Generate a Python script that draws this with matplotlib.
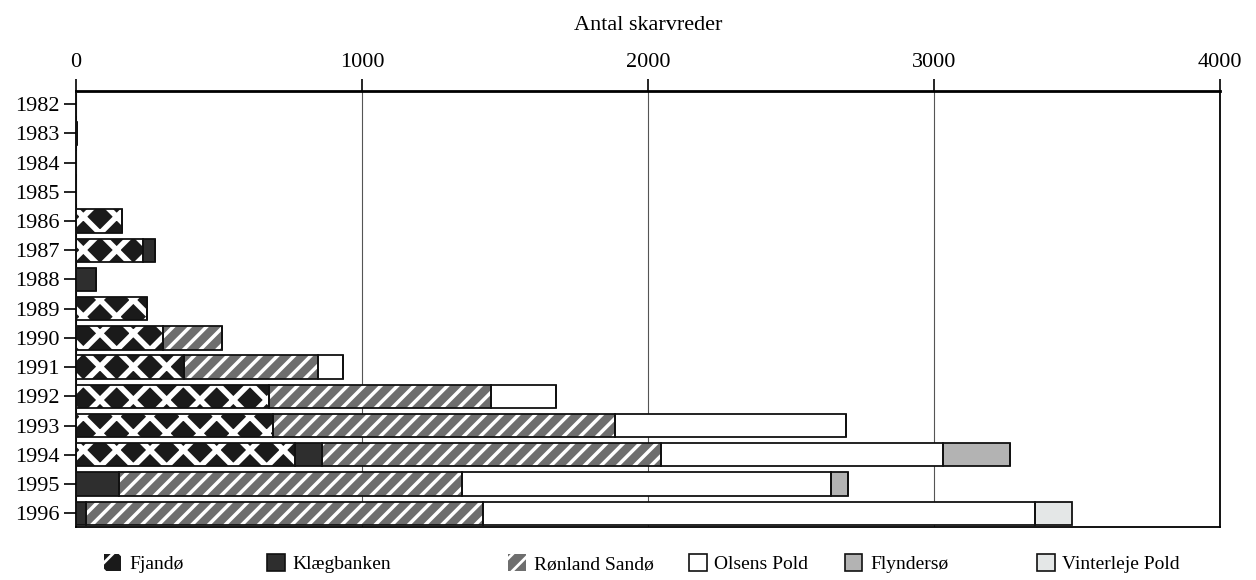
import matplotlib
matplotlib.use("Agg")
import matplotlib.pyplot as plt
import numpy as np
from matplotlib.patches import Patch

plt.rcParams["font.family"] = ["Liberation Serif", "DejaVu Serif"]
plt.rcParams["hatch.linewidth"] = 2.0

years = [1982, 1983, 1984, 1985, 1986, 1987, 1988, 1989, 1990,
         1991, 1992, 1993, 1994, 1995, 1996]

# number of cormorant nests per colony
fjando = [0, 5, 0, 0, 162, 235, 0, 248, 304, 377, 674, 688, 765, 0, 0]
klaegbanken = [0, 0, 0, 0, 0, 42, 70, 0, 0, 0, 0, 0, 95, 150, 35]
ronland = [0, 0, 0, 0, 0, 0, 0, 0, 206, 469, 777, 1195, 1184, 1200, 1389]
olsens = [0, 0, 0, 0, 0, 0, 0, 0, 0, 87, 226, 808, 989, 1291, 1930]
flyndersoe = [0, 0, 0, 0, 0, 0, 0, 0, 0, 0, 0, 0, 234, 59, 0]
vinterleje = [0, 0, 0, 0, 0, 0, 0, 0, 0, 0, 0, 0, 0, 0, 129]

# name, values, face colour, hatch colour, hatch, hatch linewidth
series = [
    ("Fjandø", fjando, "#1a1a1a", "white", "x", 4.0),
    ("Klægbanken", klaegbanken, "#2e2e2e", None, None, None),
    ("Rønland Sandø", ronland, "#6e6e6e", "white", "//", 2.5),
    ("Olsens Pold", olsens, "white", None, None, None),
    ("Flyndersø", flyndersoe, "#b3b3b3", None, None, None),
    ("Vinterleje Pold", vinterleje, "#e4e7e7", None, None, None),
]

fig = plt.figure(figsize=(12.56, 5.8), dpi=100, facecolor="white")
ax = fig.add_axes([0.0605, 0.0914, 0.9108, 0.7517])

ypos = np.arange(len(years))
left = np.zeros(len(years))
handles = []
for name, vals, fc, hc, hatch, hlw in series:
    vals = np.array(vals, dtype=float)
    if hatch:
        with plt.rc_context({"hatch.linewidth": hlw}):
            ax.barh(ypos, vals, left=left, height=0.8, color=fc,
                    edgecolor=hc, hatch=hatch, linewidth=0, zorder=2)
            h = Patch(facecolor=fc, edgecolor=hc, hatch=hatch, linewidth=0)
    else:
        ax.barh(ypos, vals, left=left, height=0.8, color=fc,
                linewidth=0, zorder=2)
        h = Patch(facecolor=fc, edgecolor="#111111", linewidth=1.2)
    ax.barh(ypos, vals, left=left, height=0.8, fill=False,
            edgecolor="#111111", linewidth=1.3, zorder=3)
    left += vals
    handles.append((name, h))

ax.set_xlim(0, 4000)
ax.set_ylim(len(years) - 0.53, -0.45)
ax.set_yticks(ypos)
ax.set_yticklabels([str(y) for y in years], fontsize=16)
ax.set_xticks([0, 1000, 2000, 3000, 4000])
ax.set_xticklabels(["0", "1000", "2000", "3000", "4000"], fontsize=16)
ax.xaxis.tick_top()
ax.xaxis.set_label_position("top")
ax.set_xlabel("Antal skarvreder", fontsize=16, labelpad=16)
ax.tick_params(axis="x", length=9, width=1.2, pad=5)
ax.tick_params(axis="y", length=9, width=1.2, pad=3)
ax.grid(axis="x", color="#555555", linewidth=0.8, zorder=0)
for s in ax.spines.values():
    s.set_linewidth(1.3)
ax.spines["top"].set_linewidth(2.0)

# legend entries placed one by one along the bottom
leg_x = [0.075, 0.205, 0.397, 0.541, 0.665, 0.818]
for (name, h), x in zip(handles, leg_x):
    fig.legend([h], [name], loc="center left",
               bbox_to_anchor=(x, 0.028), frameon=False,
               fontsize=14, handlelength=0.9, handleheight=0.9,
               handletextpad=0.4, borderpad=0)

fig.savefig("out.png", dpi=100, facecolor="white")
